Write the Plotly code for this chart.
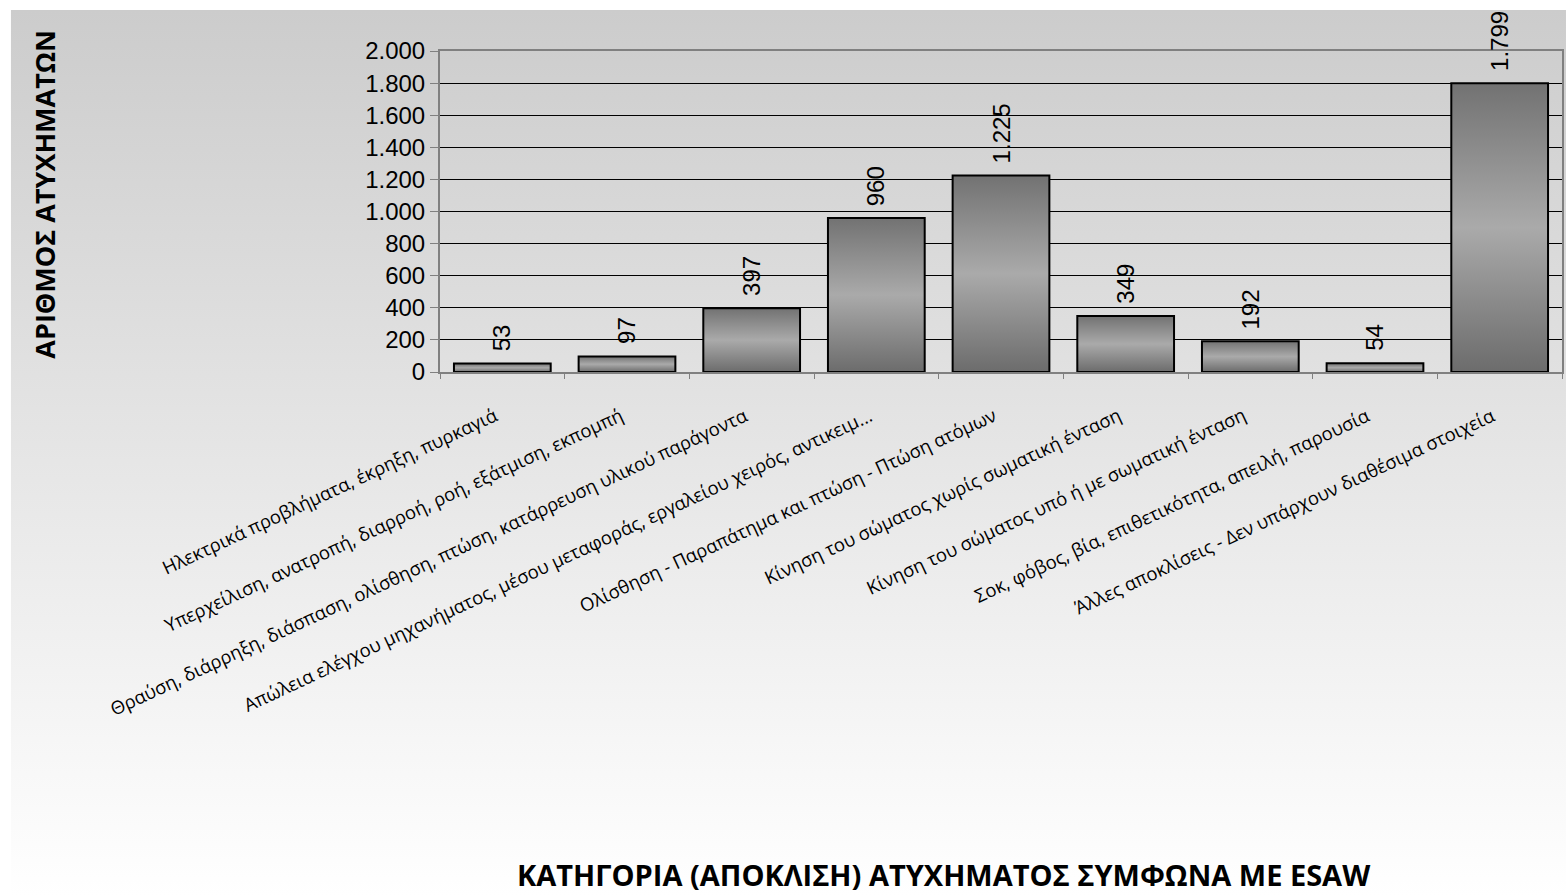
import base64
import plotly.graph_objects as go

# Accident categories (ESAW deviation) and counts
categories = [
    "Ηλεκτρικά προβλήματα, έκρηξη, πυρκαγιά",
    "Υπερχείλιση, ανατροπή, διαρροή, ροή, εξάτμιση, εκπομπή",
    "Θραύση, διάρρηξη, διάσπαση, ολίσθηση, πτώση, κατάρρευση υλικού παράγοντα",
    "Απώλεια ελέγχου μηχανήματος, μέσου μεταφοράς, εργαλείου χειρός, αντικειμ...",
    "Ολίσθηση - Παραπάτημα και πτώση - Πτώση ατόμων",
    "Κίνηση του σώματος χωρίς σωματική ένταση",
    "Κίνηση του σώματος υπό ή με σωματική ένταση",
    "Σοκ, φόβος, βία, επιθετικότητα, απειλή, παρουσία",
    "Άλλες αποκλίσεις - Δεν υπάρχουν διαθέσιμα στοιχεία",
]
accidents = [53, 97, 397, 960, 1225, 349, 192, 54, 1799]

y_ticks = [0, 200, 400, 600, 800, 1000, 1200, 1400, 1600, 1800, 2000]
y_title = "ΑΡΙΘΜΟΣ ΑΤΥΧΗΜΑΤΩΝ"
x_title = "ΚΑΤΗΓΟΡΙΑ (ΑΠΟΚΛΙΣΗ) ΑΤΥΧΗΜΑΤΟΣ ΣΥΜΦΩΝΑ ΜΕ ESAW"

W, H = 1568, 896
L, R, T, B = 440, 4, 51, 524
PW, PH = W - L - R, H - T - B
n = len(accidents)
half = 0.388


def px_x(px):
    return (px - L) / PW


def px_y(py):
    return (H - B - py) / PH


def fmt(v):
    return f"{v:,}".replace(",", ".")


fig = go.Figure()

# bars: outlined boxes with a vertical dark-light-dark gradient
bar_scale = [[0, "#6c6c6c"], [0.5, "#aaaaaa"], [1, "#727272"]]
for i, v in enumerate(accidents):
    fig.add_trace(go.Scatter(
        x=[i - half, i + half, i + half, i - half, i - half],
        y=[0, 0, v, v, 0],
        mode="lines",
        fill="toself",
        fillgradient=dict(type="vertical", colorscale=bar_scale),
        line=dict(color="black", width=2),
        hoverinfo="skip",
        showlegend=False,
    ))

# invisible trace so the boundary-tick axis is drawn
fig.add_trace(go.Scatter(x=[-0.5, n - 0.5], y=[0, 0], xaxis="x2", mode="lines",
                         line=dict(width=0), hoverinfo="skip", showlegend=False))

# value labels above the bars
for i, v in enumerate(accidents):
    fig.add_annotation(x=i, y=v, text=fmt(v), textangle=-90, showarrow=False,
                       xanchor="center", yanchor="bottom", yshift=10,
                       font=dict(family="Liberation Sans", size=24, color="black"))

# slanted category labels, right end just left of each category centre
for i, name in enumerate(categories):
    fig.add_annotation(x=i, xref="x", y=0, yref="paper", text=name,
                       textangle=-25, showarrow=False,
                       xanchor="right", yanchor="top", xshift=2, yshift=-27,
                       font=dict(family="Open Sans", size=18.5, color="black"))

# background gradient
svg = (
    '<svg xmlns="http://www.w3.org/2000/svg" width="100" height="100" '
    'preserveAspectRatio="none" viewBox="0 0 100 100">'
    '<defs><linearGradient id="g" x1="0" y1="0" x2="0" y2="1">'
    '<stop offset="0" stop-color="#cccccc"/>'
    '<stop offset="1" stop-color="#ffffff"/>'
    '</linearGradient></defs>'
    '<rect x="0" y="0" width="100" height="100" fill="url(#g)"/></svg>'
)
src = "data:image/svg+xml;base64," + base64.b64encode(svg.encode()).decode()
fig.add_layout_image(dict(
    source=src, xref="paper", yref="paper",
    x=px_x(10), y=px_y(10), sizex=(W - 10) / PW, sizey=(H - 10) / PH,
    xanchor="left", yanchor="top", sizing="stretch", layer="below",
))

fig.add_annotation(xref="paper", yref="paper", x=px_x(43), y=px_y(194),
                   text=f"<b>{y_title}</b>", textangle=-90, showarrow=False,
                   xanchor="center", yanchor="middle",
                   font=dict(family="Open Sans", size=27, color="black"))
fig.add_annotation(xref="paper", yref="paper", x=px_x(945), y=px_y(874),
                   text=f"<b>{x_title}</b>", showarrow=False,
                   xanchor="center", yanchor="middle",
                   font=dict(family="Open Sans", size=29, color="black"))

fig.update_layout(
    width=W, height=H,
    margin=dict(l=L, r=R, t=T, b=B),
    paper_bgcolor="white",
    plot_bgcolor="rgba(0,0,0,0)",
    separators=",.",
    xaxis=dict(
        range=[-0.5, n - 0.5],
        tickvals=list(range(n)),
        showticklabels=False,
        ticks="",
        showgrid=False,
        zeroline=False,
        showline=True, mirror=True, linecolor="#808080", linewidth=2,
    ),
    xaxis2=dict(
        range=[-0.5, n - 0.5],
        overlaying="x",
        anchor="y",
        tickvals=[k - 0.5 for k in range(n + 1)],
        showticklabels=False,
        ticks="outside", ticklen=6, tickcolor="#808080", tickwidth=1,
        showgrid=False, zeroline=False, showline=False,
    ),
    yaxis=dict(
        range=[0, 2000],
        tickvals=y_ticks,
        tickformat=",d",
        ticks="outside", ticklen=8, tickcolor="#808080", tickwidth=1,
        showgrid=True, gridcolor="black", gridwidth=1,
        zeroline=False,
        showline=True, mirror=True, linecolor="#808080", linewidth=2,
        tickfont=dict(family="Liberation Sans", size=24, color="black"),
    ),
)

fig.write_html("out.html")
